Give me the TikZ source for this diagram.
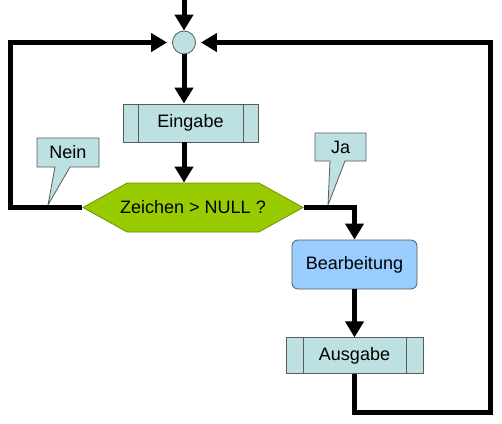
\documentclass[tikz,border=0pt]{standalone}
\usepackage{fontspec}
\setmainfont{Liberation Sans}
\usetikzlibrary{shapes.geometric,shapes.symbols,shapes.callouts,arrows.meta,positioning,calc}
\definecolor{iocyan}{RGB}{189,224,227}
\definecolor{testgreen}{RGB}{153,204,0}
\definecolor{procblue}{RGB}{153,204,255}
\definecolor{framegray}{RGB}{90,90,90}
\tikzset{
  box/.style={rectangle, draw=framegray, line width=0.8pt, align=center, inner sep=0pt, font=\fontsize{18}{21}\selectfont},
  iobox/.style={box, fill=iocyan,
    path picture={
      \draw[framegray, line width=0.8pt] ([xshift=#1]path picture bounding box.north west) -- ([xshift=#1]path picture bounding box.south west);
      \draw[framegray, line width=0.8pt] ([xshift=-#1]path picture bounding box.north east) -- ([xshift=-#1]path picture bounding box.south east);
    }},
  iobox/.default=15pt,
  procbox/.style={box, fill=procblue, rounded corners=6pt},
  testbox/.style={box, signal, signal to=west and east, signal pointer angle=58, fill=testgreen, draw=testgreen!70!black},
  notebox/.style={box, rectangle callout, fill=iocyan, callout pointer width=15pt},
  joint/.style={circle, draw=framegray, line width=0.8pt, fill=iocyan, minimum size=23pt, inner sep=0pt},
  flow/.style={-{Triangle[length=16pt,width=18pt]}, line width=5pt},
}
\begin{document}
\begin{tikzpicture}[x=1pt, y=-1pt]
  \useasboundingbox (0,0) rectangle (502,423);

  % Junction and input
  \node[joint] (junction) at (184,42.5) {};
  \coordinate (start) at (184,0);
  \node[iobox, minimum width=135pt, minimum height=38pt] (eingabe) at (190.5,123) {Eingabe};

  % Decision
  \node[testbox, minimum width=220pt, minimum height=49pt] (decide) at (193,207.5) {\makebox[0pt]{Zeichen > NULL ?}};

  % Processing and output
  \node[procbox, minimum width=125pt, minimum height=49pt] (bearb) at (354.5,264.5) {Bearbeitung};
  \node[iobox=17pt, minimum width=137pt, minimum height=36pt, below=48pt of bearb] (ausgabe) {Ausgabe};

  % Loop corners
  \coordinate (cornerL) at (10,42.5);
  \coordinate (cornerR) at (490,412);

  % Callouts
  \coordinate (neintip) at (48,205);
  \coordinate (jatip) at (328,205);
  \node[notebox, minimum width=62pt, minimum height=29pt, callout absolute pointer={(neintip)}] (nein) at (68,152.5) {Nein};
  \node[notebox, minimum width=51pt, minimum height=28pt, callout absolute pointer={(jatip)}] (ja) at (340.5,147) {Ja};

  % Arrows
  \draw[flow] (start) -- (junction.north);
  \draw[flow] (junction.south) -- (junction.south |- eingabe.north);
  \draw[flow] (junction |- eingabe.south) -- (junction |- decide.north);
  \draw[flow, shorten >=5pt] (decide.west) -| (cornerL) -- (junction.west);
  \draw[flow] (decide.east) -| (bearb.north);
  \draw[flow] (bearb) -- (ausgabe);
  \draw[flow, shorten >=5pt] (ausgabe.south) |- (cornerR) |- (junction.east);

\end{tikzpicture}
\end{document}
